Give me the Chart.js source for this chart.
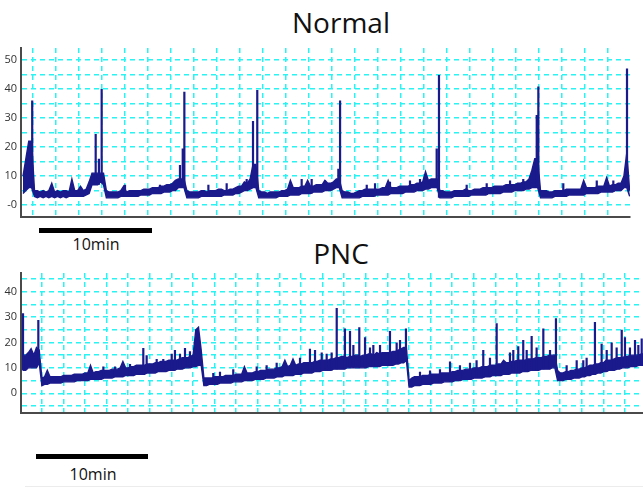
<!DOCTYPE html>
<html>
<head>
<meta charset="utf-8">
<script src="https://cdn.jsdelivr.net/npm/chart.js@4.4.1/dist/chart.umd.min.js"></script>
<style>
  body { margin: 0; width: 643px; height: 488px; background: #fff; position: relative; overflow: hidden; font-family: "Open Sans", sans-serif; }
  canvas { position: absolute; left: 0; }
  .title { position: absolute; left: 241px; width: 200px; text-align: center; font-size: 28px; line-height: 28px; color: #111; }
  .bar { position: absolute; height: 5px; background: #000; }
  .barText { position: absolute; width: 112px; text-align: center; font-size: 16px; line-height: 16px; color: #111; }
</style>
</head>
<body>
<div class="title" style="top:8px">Normal</div>
<canvas id="normalChart" width="643" height="180" style="top:40px"></canvas>
<div class="bar" style="left:39px; top:228px; width:113px"></div>
<div class="barText" style="left:40px; top:236px">10min</div>

<div class="title" style="top:239px">PNC</div>
<canvas id="pncChart" width="643" height="155" style="top:265px"></canvas>
<div class="bar" style="left:36px; top:454px; width:112px"></div>
<div class="barText" style="left:37px; top:466px">10min</div>
<div style="position:absolute; left:25px; top:486px; width:618px; height:1px; background:#ececec"></div>

<script>
// sampling interval of both recordings (minutes)
const sampleStep = 0.25;

// Normal recording: upper and lower edge of the noisy band, one value every 0.25 min
const normalHigh = [
  10, 16, 22, 22, 5,
  5, 4.5, 5, 4.5, 5, 7.5, 4.5, 5, 4.5, 5, 5, 4.5, 9, 5, 5, 6.5, 5, 5.5, 8, 11,
  11, 11, 11, 11, 5,
  4.5, 4.5, 4.5, 4.5, 5, 6.5, 4.5, 5, 5, 5, 5, 5, 5.5, 5.5, 5.5, 6, 6, 6, 6.5, 6.5, 7, 7, 7.5, 8.5,
  9, 9, 9, 5,
  4.5, 4.5, 4.5, 4.5, 5, 5, 4.5, 5, 5, 5, 5.5, 5.5, 5, 5, 5.5, 5.5, 6, 6.5, 6.5, 8, 7.5,
  9, 14, 14, 5,
  4.5, 4.5, 4, 4.5, 4.5, 4.5, 4.5, 5, 5, 5.5, 8.5, 6, 6, 6, 6.5, 6.5, 8.5, 6.5, 6.5, 7, 7, 7, 8.5, 7.5, 7.5, 8, 9, 9, 5,
  4.5, 4.5, 4, 4, 4.5, 5, 5, 5.5, 5.5, 5.5, 5.5, 5.5, 5.5, 6, 6, 8.5, 6, 6, 6, 6.5, 6.5, 6.5, 6.5, 7, 7, 7.5, 7.5, 8, 11.5, 8.5, 9, 9, 9, 5,
  5, 4.5, 4.5, 4.5, 5, 5, 5, 5, 5.5, 5, 5, 5.5, 5.5, 5.5, 6, 6, 6, 6, 6.5, 6.5, 6.5, 6.5, 7, 7, 7, 7, 7.5, 7.5, 8, 8, 9, 12, 16, 16, 5,
  5, 5, 4.5, 4.5, 5, 5, 5, 5, 5.5, 5.5, 5.5, 5.5, 5.5, 5.5, 8.5, 6, 6, 6, 6, 6.5, 6.5, 6.5, 9.5, 6.5, 7, 7, 7.5, 7.5, 10, 18, 5
];
const normalLow = [
  4, 5, 6, 6, 3,
  2.5, 3, 2.5, 3, 2.5, 3, 2.5, 3, 2.5, 3, 2.5, 3, 3, 3, 3, 3, 3, 3.5, 4, 7,
  7, 7, 8, 7, 2.5,
  2.5, 2.5, 2.5, 2.5, 3, 3, 3, 3, 3, 3, 3, 3.5, 3.5, 3.5, 3.5, 4, 4, 4, 4, 4.5, 4.5, 4.5, 5, 5,
  6, 6, 6, 2.5,
  2.5, 2.5, 2.5, 2.5, 3, 3, 3, 3, 3, 3, 3, 3, 3.5, 3.5, 3.5, 3.5, 4, 4, 4.5, 5, 5,
  5.5, 6, 6, 2.5,
  2.5, 2.5, 2.5, 2.5, 2.5, 2.5, 3, 3, 3, 3, 3.5, 3.5, 3.5, 3.5, 4, 4, 4, 4, 4.5, 4.5, 4.5, 4.5, 5, 5, 5, 5.5, 6, 6, 2.5,
  2.5, 2.5, 2.5, 2.5, 2.5, 2.5, 3, 3, 3, 3, 3, 3.5, 3.5, 3.5, 3.5, 3.5, 4, 4, 4, 4, 4, 4.5, 4.5, 4.5, 4.5, 5, 5, 5, 5.5, 5.5, 6, 6, 6, 2.5,
  2.5, 2.5, 2.5, 2.5, 3, 3, 3, 3, 3, 3, 3.5, 3.5, 3.5, 3.5, 3.5, 3.5, 4, 4, 4, 4, 4, 4.5, 4.5, 4.5, 4.5, 5, 5, 5, 5, 5.5, 5.5, 6, 6, 6, 2.5,
  2.5, 2.5, 2.5, 2.5, 3, 3, 3, 3, 3, 3.5, 3.5, 3.5, 3.5, 3.5, 3.5, 4, 4, 4, 4, 4, 4.5, 4.5, 4.5, 4.5, 4.5, 5, 5, 5, 6, 6, 3
];
// Normal recording: narrow spikes (time in min, peak)
const normalSpikeTimes = [
  0.8, 6.32, 6.6, 6.84, 8.87, 11.91, 13.65, 13.89, 14.03, 16.12,
  17.71, 19.45, 20.0, 20.37, 24.23, 25.1, 26.26, 27.42, 27.57, 29.89,
  30.61, 31.91, 33.65, 34.52, 35.97, 36.17, 38.58, 40.32, 42.35, 43.5,
  44.67, 44.81, 46.98, 49.89, 51.33, 52.52
];
const normalSpikePeaks = [
  36, 24.5, 16, 40, 7, 7, 13.8, 19.5, 39, 7,
  7.5, 9, 29, 39.6, 9, 9, 8.5, 12.5, 36, 7,
  7.5, 8, 8.5, 9, 19.5, 44.8, 7, 7.5, 8.5, 9,
  31, 40.8, 7.5, 8.5, 8.5, 47
];

// PNC recording: upper and lower edge of the noisy band, one value every 0.25 min
const pncHigh = [
  15, 15, 16, 17.5, 15, 18, 17, 6,
  6.5, 9, 6.5, 6.5, 6.5, 6.5, 6.5, 7, 7, 7, 7, 7.5, 7.5, 7.5, 7.5, 8, 8, 11, 8, 8.5, 8.5, 9, 9, 9, 9, 9.5, 9.5, 9.5, 10, 12.5,
  10, 10, 10.5, 10.5, 11, 11, 11, 11, 11.5, 11.5, 11.5, 12, 12, 12.5, 12.5, 12.5, 13, 13, 13, 13, 13.5, 14, 14, 14, 14.5, 15, 25, 26, 17,
  6, 6, 6, 6, 6.5, 6.5, 6.5, 6.5, 7, 7, 7, 7, 7.5, 7.5, 7.5, 10.5, 8, 8, 8, 8.5, 8.5, 9, 9, 9, 9.5, 9.5, 9.5, 10, 10, 10.5,
  13, 10.5, 11, 13.5, 11, 11.5, 11.5, 12, 12, 12, 12, 12.5, 12.5, 13, 13, 13, 13, 13.5, 13.5, 14,
  14, 14.5, 14.5, 14, 14.5, 14.5, 15, 15, 14.5, 15, 15, 15.5, 15.5, 15, 16, 15.5, 16, 16, 16, 16, 16.5, 16.5, 17, 17.5, 18, 18, 5,
  6, 6.5, 6.5, 6.5, 7, 7, 7, 7.5, 7.5, 7.5, 7.5, 8, 8, 8, 8, 8.5, 8.5, 9, 9, 9, 9.5, 9.5, 9.5, 10, 10, 10, 10.5, 10.5, 10.5, 11,
  11, 11, 11.5, 11.5, 13, 12, 12, 12.5, 12.5, 13, 13, 13, 13, 13.5, 13.5, 13.5, 14, 14, 14, 14.5, 14.5, 15, 15, 15, 9,
  8, 8, 8.5, 8.5, 9, 9, 9.5, 9.5, 10, 10, 10.5, 11, 11, 11.5, 11.5, 12, 12, 13, 13, 13, 13.5, 14, 14, 14, 14.5, 14.5, 15, 15, 15, 15, 15.5, 15.5
];
const pncLow = [
  9, 9, 10, 10, 10, 10, 12, 3,
  3.5, 3.5, 4, 4, 4, 4, 4, 4.5, 4.5, 4.5, 4.5, 4.5, 5, 5, 5, 5, 5, 5.5, 5.5, 5.5, 5.5, 5.5, 6, 6, 6, 6, 6.5, 6.5, 6.5, 6.5,
  7, 7, 7, 7, 7.5, 7.5, 7.5, 7.5, 8, 8, 8, 8, 8.5, 8.5, 8.5, 8.5, 9, 9, 9, 9.5, 9.5, 9.5, 10, 10, 10, 10.5, 10.5, 11, 11,
  3, 3, 3.5, 3.5, 3.5, 3.5, 4, 4, 4, 4, 4, 4.5, 4.5, 4.5, 4.5, 5, 5, 5, 5, 5.5, 5.5, 5.5, 5.5, 6, 6, 6, 6, 6.5, 6.5, 6.5,
  7, 7, 7, 7, 7.5, 7.5, 7.5, 8, 8, 8, 8, 8.5, 8.5, 8.5, 9, 9, 9, 9, 9.5, 9.5,
  9.5, 9.5, 9.5, 10, 10, 10, 10, 10, 10, 10, 10, 10.5, 10.5, 10.5, 10.5, 10.5, 11, 11, 11, 11, 11, 11.5, 11.5, 12, 12, 13, 2.5,
  2.5, 3, 3, 3, 3.5, 3.5, 3.5, 3.5, 4, 4, 4, 4, 4.5, 4.5, 4.5, 4.5, 5, 5, 5, 5.5, 5.5, 5.5, 5.5, 6, 6, 6, 6, 6.5, 6.5, 6.5,
  7, 7, 7, 7, 7.5, 7.5, 7.5, 8, 8, 8, 8, 8.5, 8.5, 8.5, 9, 9, 9, 9, 9.5, 9.5, 9.5, 9.5, 10, 10, 5,
  5, 5, 5.5, 5.5, 5.5, 6, 6, 6, 6.5, 6.5, 7, 7, 7.5, 7.5, 8, 8, 8.5, 8.5, 9, 9, 9, 9.5, 9.5, 10, 10, 10, 10.5, 10.5, 10.5, 11, 11, 11
];
// PNC recording: narrow spikes (time in min, peak)
const pncSpikeTimes = [
  0, 1.42, 7.44, 8.52, 9.91, 11.14, 11.45, 12.38, 12.99, 13.77,
  14.07, 14.54, 15.0, 15.46, 17.62, 18.24, 19.47, 21.64, 22.56, 23.49,
  25.65, 26.57, 27.04, 27.66, 28.12, 28.58, 29.05, 29.81, 30.28, 30.59,
  31.14, 31.67, 32.13, 32.44, 33.06, 33.98, 34.6, 34.91, 35.46, 36.76,
  37.69, 38.61, 39.54, 40.46, 41.39, 42.0, 42.62, 43.24, 43.86, 45.09,
  45.4, 45.86, 46.32, 46.64, 47.10, 47.56, 48.18, 48.80, 49.35, 50.34,
  51.27, 51.88, 52.19, 52.96, 53.58, 54.05, 54.51, 54.97, 55.44, 55.74,
  56.2, 56.67, 56.98, 57.29
];
const pncSpikePeaks = [
  31.5, 28.8, 10.5, 10.5, 11.5, 17.8, 15, 13.5, 13.5, 15.5,
  17, 15.5, 17.8, 16.5, 8, 8.5, 9.5, 10.5, 11, 12,
  14, 17.5, 17, 16, 15.5, 16, 33.5, 25.5, 24.5, 19,
  26, 22, 18, 19, 19, 24.5, 20, 21, 25.5, 8.5,
  9, 9.5, 12.5, 11, 12, 13, 17, 14, 27.5, 16,
  17, 18.5, 21, 17, 22.5, 18, 25.5, 17, 29.5, 11,
  13, 13, 14, 28, 19.5, 17, 20, 18, 25, 22,
  18, 21, 19, 21.5
];

// y tick labels
const normalTickValues = [0, 10, 20, 30, 40, 50];
const normalTickText = ['-0', '10', '20', '30', '40', '50'];
const pncTickValues = [0, 10, 20, 30, 40];
const pncTickText = ['0', '10', '20', '30', '40'];

const traceColor = '#1b1a8c';
const gridColor = '#2af3f3';

function makeChart(id, high, low, spikeTimes, spikePeaks, cfg) {
  const toPoints = arr => arr.map((v, i) => ({ x: i * sampleStep, y: v }));
  // each spike is a vertical stroke from the band up to its peak
  const spikePoints = [];
  spikeTimes.forEach((t, k) => {
    const base = low[Math.min(low.length - 1, Math.round(t / sampleStep))];
    spikePoints.push({ x: t, y: base }, { x: t, y: spikePeaks[k] }, { x: t, y: null });
  });
  const common = {
    borderColor: traceColor,
    backgroundColor: traceColor,
    pointRadius: 0,
    tension: 0
  };
  return new Chart(document.getElementById(id), {
    type: 'line',
    data: {
      datasets: [
        Object.assign({ data: spikePoints, fill: false, borderWidth: 2.2 }, common),
        Object.assign({ data: toPoints(high), fill: '+1', borderWidth: 1.4 }, common),
        Object.assign({ data: toPoints(low), fill: false, borderWidth: 1.4 }, common)
      ]
    },
    options: {
      responsive: false,
      animation: false,
      layout: { padding: cfg.padding },
      plugins: { legend: { display: false }, tooltip: { enabled: false } },
      scales: {
        x: {
          type: 'linear',
          min: cfg.xMin,
          max: cfg.xMax,
          afterBuildTicks: s => {
            const t = [];
            for (let v = cfg.xGridStart; v < cfg.xMax; v += 2) t.push({ value: v });
            s.ticks = t;
          },
          afterFit: s => { s.height = 0; s.paddingLeft = 0; s.paddingRight = 0; },
          ticks: { display: false },
          grid: { color: gridColor, lineWidth: 1.5, drawTicks: false },
          border: { display: true, color: '#4a4a4a', width: 2, dash: [5, 4] }
        },
        y: {
          min: cfg.yMin,
          max: cfg.yMax,
          afterBuildTicks: s => {
            const t = [];
            for (let v = cfg.yGridFrom; v <= cfg.yGridTo; v += 5) t.push({ value: v });
            s.ticks = t;
          },
          afterFit: s => { s.width = 21; s.paddingTop = 0; s.paddingBottom = 0; },
          ticks: {
            autoSkip: false,
            padding: 4,
            color: '#333',
            font: { family: 'Open Sans', size: 11 },
            callback: v => {
              const k = cfg.tickValues.indexOf(v);
              return k >= 0 ? cfg.tickText[k] : '';
            }
          },
          grid: { color: gridColor, lineWidth: 1.5, drawTicks: false },
          border: { display: true, color: '#4a4a4a', width: 2, dash: [5, 4] }
        }
      }
    }
  });
}

makeChart('normalChart', normalHigh, normalLow, normalSpikeTimes, normalSpikePeaks, {
  padding: { top: 8, bottom: 3, left: 0, right: 13 },
  xMin: -0.174, xMax: 52.78, xGridStart: 0.809,
  yMin: -4.1, yMax: 54.1, yGridFrom: 0, yGridTo: 50,
  tickValues: normalTickValues, tickText: normalTickText
});

makeChart('pncChart', pncHigh, pncLow, pncSpikeTimes, pncSpikePeaks, {
  padding: { top: 8, bottom: 7, left: 0, right: 0 },
  xMin: -0.185, xMax: 57.41, xGridStart: 1.73,
  yMin: -7.75, yMax: 47.3, yGridFrom: -5, yGridTo: 45,
  tickValues: pncTickValues, tickText: pncTickText
});
</script>
</body>
</html>
